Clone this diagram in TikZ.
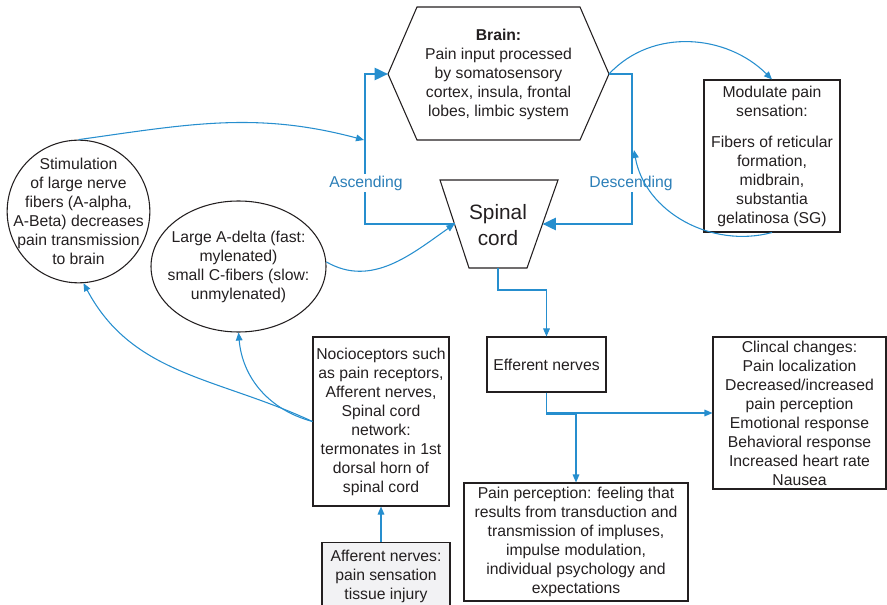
\documentclass[tikz,border=0pt]{standalone}
\usepackage{fontspec}
\setmainfont{Liberation Sans}
\usetikzlibrary{arrows.meta,shapes.geometric}
\definecolor{nerveblue}{RGB}{38,142,206}
\definecolor{labelblue}{RGB}{44,127,184}
\definecolor{ink}{RGB}{35,31,32}
\definecolor{injurygray}{RGB}{242,242,244}

\begin{document}
\begin{tikzpicture}[x=0.75pt,y=-0.75pt,
  txt/.style={font=\fontsize{11.8}{14.25}\selectfont,text=ink,align=center},
  box/.style={txt,draw=ink,line width=0.8pt,inner sep=0pt},
  ring/.style={draw=ink,line width=0.8pt,inner sep=0pt},
  thickflow/.style={nerveblue,line width=1.9pt,-{Triangle[length=10pt,width=9pt]}},
  thinflow/.style={nerveblue,line width=0.8pt,-{Triangle[length=6pt,width=5pt]}},
  flowlabel/.style={font=\fontsize{11.8}{14.25}\selectfont,text=labelblue,fill=white,inner sep=1pt}]
  \useasboundingbox (0,0) rectangle (887,605);

  \coordinate (brainW) at (388,74);
  \coordinate (brainE) at (609,74);
  \draw[ink,line width=0.8pt] (brainW) -- (417,7) -- (580,7) -- (brainE) -- (580,140) -- (417,140) -- cycle;
  \node[txt] (brain) at (498.5,74) {\textbf{Brain:}\\Pain input processed\\by somatosensory\\cortex, insula, frontal\\lobes, limbic system};

  \coordinate (spinalW) at (454.5,224);
  \coordinate (spinalE) at (542.5,224);
  \coordinate (spinalS) at (498,268);
  \draw[ink,line width=0.8pt] (440,180) -- (558,180) -- (527,268) -- (469,268) -- cycle;
  \node[txt,font=\fontsize{15.6}{19.5}\selectfont] (spinal) at (498,225) {Spinal\\cord};

  \node[box,minimum width=102pt,minimum height=114pt] (modulate) at (772,156)
    {Modulate pain\\sensation:\\[9pt]Fibers of reticular\\formation,\\midbrain,\\substantia\\gelatinosa (SG)};

  \node[ring,circle,minimum size=107pt] (stim) at (78.5,211.5) {};
  \node[txt] (stimtext) at (stim) {Stimulation\\of large nerve\\fibers (A-alpha,\\A-Beta) decreases\\pain transmission\\to brain};

  \node[ring,ellipse,minimum width=131.25pt,minimum height=98.25pt] (adelta) at (238.5,266.5) {};
  \node[txt] (adeltatext) at (adelta) {Large A-delta (fast:\\mylenated)\\small C-fibers (slow:\\unmylenated)};

  \node[box,minimum width=102pt,minimum height=126.75pt] (noci) at (381,421.5)
    {Nocioceptors such\\as pain receptors,\\Afferent nerves,\\Spinal cord\\network:\\termonates in 1st\\dorsal horn of\\spinal cord};
  \node[box,fill=injurygray,anchor=north,minimum width=96pt,minimum height=51pt] (afferent) at (386,542)
    {Afferent nerves:\\pain sensation\\tissue injury};

  \node[box,minimum width=89.25pt,minimum height=41.25pt] (efferent) at (546.5,364.5) {Efferent nerves};
  \node[box,minimum width=129.75pt,minimum height=114pt] (clinical) at (799.5,413)
    {Clincal changes:\\Pain localization\\Decreased/increased\\pain perception\\Emotional response\\Behavioral response\\Increased heart rate\\Nausea};
  \node[box,minimum width=168pt,minimum height=88.5pt] (perception) at (576,542)
    {Pain perception: feeling that\\results from transduction and\\transmission of impluses,\\impulse modulation,\\individual psychology and\\expectations};

  \coordinate (ascx) at (365,150);
  \coordinate (descx) at (632,150);
  \coordinate (ascin) at (364,140);
  \coordinate (descin) at (634,150);
  \draw[thickflow] (spinalW) -| (ascx) |- (brainW);
  \draw[thickflow] (brainE) -| (descx) |- (spinalE);
  \node[flowlabel] (ascending) at (366,183) {Ascending};
  \node[flowlabel] (descending) at (631,183) {Descending};

  \draw[thinflow] (stim.north) to[out=8,in=165] (ascin);
  \draw[thinflow] (brainE) to[out=47,in=135] (modulate.north);
  \draw[thinflow] (modulate.south) to[out=195,in=-80] (descin);
  \draw[thinflow] (adelta.3) to[out=-30,in=215] (spinalW);
  \draw[thinflow] (noci.west) to[out=155,in=-62] (stim.-86);
  \draw[thinflow] (noci.west) to[out=165,in=-85] (adelta.south);
  \draw[thinflow] (noci.south |- afferent.north) -- (noci.south);

  \draw[thinflow] (spinalS) -- ++(0,22) -| (efferent.north);
  \draw[thinflow] (efferent.south) -- ++(0,22) -| (perception.north);
  \draw[thinflow] (efferent.south) |- (clinical.west);
\end{tikzpicture}
\end{document}
